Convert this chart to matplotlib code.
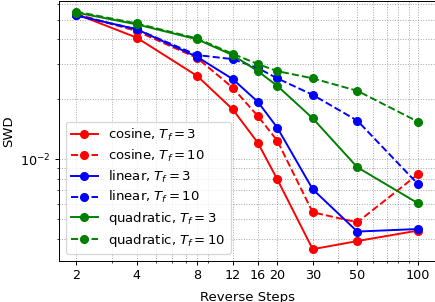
import matplotlib
matplotlib.use("Agg")
import matplotlib.pyplot as plt
from matplotlib.ticker import NullFormatter

steps = [2, 4, 8, 12, 16, 20, 30, 50, 100]
xtick_labels = ["2", "4", "8", "12", "16", "20", "30", "50", "100"]

cosine_t3 = [0.0533, 0.0406, 0.0261, 0.01778, 0.01211, 0.00794, 0.00355, 0.00390, 0.00440]
cosine_t10 = [0.0533, 0.0438, 0.0321, 0.0228, 0.01646, 0.01239, 0.00543, 0.00484, 0.00841]
linear_t3 = [0.0524, 0.0447, 0.0325, 0.0252, 0.0194, 0.01439, 0.00708, 0.00435, 0.00448]
linear_t10 = [0.0524, 0.0447, 0.0332, 0.0317, 0.0286, 0.0254, 0.0210, 0.01560, 0.00752]
quadratic_t3 = [0.0542, 0.0473, 0.0398, 0.0332, 0.0276, 0.0233, 0.01603, 0.00912, 0.00603]
quadratic_t10 = [0.0548, 0.0478, 0.0402, 0.0337, 0.02996, 0.0276, 0.0254, 0.0220, 0.01542]

series = [
    (cosine_t3, "red", "-", r"cosine, $T_f = 3$"),
    (cosine_t10, "red", "--", r"cosine, $T_f = 10$"),
    (linear_t3, "blue", "-", r"linear, $T_f = 3$"),
    (linear_t10, "blue", "--", r"linear, $T_f = 10$"),
    (quadratic_t3, "green", "-", r"quadratic, $T_f = 3$"),
    (quadratic_t10, "green", "--", r"quadratic, $T_f = 10$"),
]

DPI = 87
fig = plt.figure(figsize=(436 / DPI, 302 / DPI), dpi=DPI)
ax = fig.add_axes([59 / 436, 1 - 260.7 / 302, (435 - 59) / 436, (260.7 - 1) / 302])

for vals, c, ls, lab in series:
    ax.plot(steps, vals, color=c, linestyle=ls, marker="o", markersize=6.5, linewidth=1.6, label=lab)

ax.set_xscale("log")
ax.set_yscale("log")
ax.set_xticks(steps, xtick_labels)
ax.xaxis.set_minor_formatter(NullFormatter())
ax.tick_params(labelsize=10.5)
ax.set_ylim(3.11e-3, 6.19e-2)
ax.grid(True, which="both", linestyle=":", color="gray", alpha=0.7)
ax.set_xlabel("Reverse Steps", fontsize=11, labelpad=7)
ax.set_ylabel("SWD", fontsize=11)
ax.legend(loc="lower left", fontsize=11, labelspacing=0.35)

fig.savefig("out.png", dpi=DPI)
